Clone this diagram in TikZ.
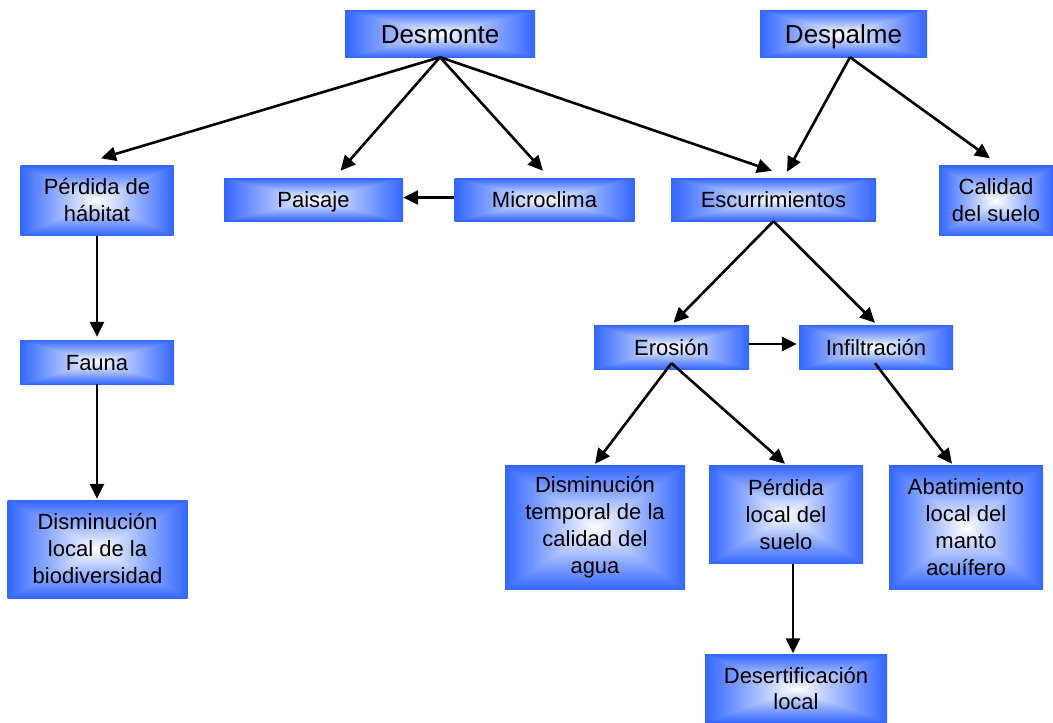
\documentclass[tikz,border=0pt]{standalone}
\usepackage{fontspec}
\setmainfont{Liberation Sans}
\usetikzlibrary{arrows.meta,calc}
\pgfdeclarefunctionalshading{boxshade}{\pgfpointorigin}{\pgfpoint{100bp}{100bp}}{}{
  50 sub abs exch 50 sub abs
  2 copy lt {exch} if pop
  25 div dup 1 gt {pop 1} if
  dup 0.8 mul 1 exch sub
  exch 0.6 mul 1 exch sub
  1
}
\tikzset{
  box/.style={rectangle, shading=boxshade, inner sep=0pt, align=center,
    font=\fontsize{22}{27}\selectfont, text=black},
  oneline/.style={text height=16pt, text depth=0pt},
  bigline/.style={font=\fontsize{26}{30}\selectfont, text height=19pt, text depth=0pt},
  arr/.style={line width=2.6pt, draw=black, -{Triangle[length=15pt,width=14pt]}},
}
\begin{document}
\begin{tikzpicture}[x=1pt,y=-1pt]
\useasboundingbox (0,0) rectangle (1053,723);
% nodes
\node[box, bigline, minimum width=190pt, minimum height=47pt] (desm) at (440,33.5) {Desmonte};
\node[box, bigline, minimum width=167pt, minimum height=47pt] (desp) at (843.5,33.5) {Despalme};
\node[box, minimum width=153pt, minimum height=70pt] (perd) at (97,200.5) {Pérdida de\\hábitat};
\node[box, oneline, minimum width=179pt, minimum height=43pt] (pais) at (313.5,199.5) {Paisaje};
\node[box, oneline, minimum width=180pt, minimum height=43pt] (micr) at (544.5,199.5) {Microclima};
\node[box, oneline, minimum width=205pt, minimum height=43pt] (escu) at (773.5,199.5) {Escurrimientos};
\node[box, minimum width=114pt, minimum height=70pt] (cali) at (996,200.5) {Calidad\\del suelo};
\node[box, oneline, minimum width=154pt, minimum height=44pt] (faun) at (97,362) {Fauna};
\node[box, minimum width=180pt, minimum height=98pt] (dism) at (97.5,549) {Disminución\\local de la\\biodiversidad};
\node[box, oneline, minimum width=155pt, minimum height=44pt] (eros) at (671.5,347) {Erosión};
\node[box, oneline, minimum width=154pt, minimum height=44pt] (infi) at (876,347) {Infiltración};
\node[box, minimum width=180pt, minimum height=124pt] (dtem) at (595,527.5) {Disminución\\temporal de la\\calidad del\\agua};
\node[box, minimum width=154pt, minimum height=98pt] (ploc) at (786,514.5) {Pérdida\\local del\\suelo};
\node[box, minimum width=154pt, minimum height=124pt] (abat) at (966,527.5) {Abatimiento\\local del\\manto\\acuífero};
\node[box, minimum width=182pt, minimum height=68pt] (dese) at (796,688.5) {Desertificación\\local};
% connectors
\draw[arr] (desm.south) -- ($(perd.north)+(4,-7)$);
\draw[arr] (desm.south) -- ($(pais.north)+(27,-7)$);
\draw[arr] (desm.south) -- ($(micr.north)+(-1.5,-7)$);
\draw[arr] (desm.south) -- ($(escu.north)+(-1.5,-7)$);
\draw[arr] ($(desp.south)+(6.5,0)$) -- ($(escu.north)+(13.5,-6)$);
\draw[arr] ($(desp.south)+(6.5,0)$) -- ($(cali.north)+(-6,-7)$);
\draw[arr] ($(micr.west)+(0,-2)$) -- ($(pais.east)+(0,-2)$);
\draw[arr] (perd.south) -- ($(faun.north)+(0,-3)$);
\draw[arr] (faun.south) -- ($(dism.north)+(-0.5,-1)$);
\draw[arr] (escu.south) -- ($(eros.north)+(2,-2)$);
\draw[arr] (escu.south) -- ($(infi.north)+(-1,-2)$);
\draw[arr] ($(eros.east)+(0,-3)$) -- ($(infi.west)+(-2,-3)$);
\draw[arr] ($(eros.south)+(0,-6)$) -- ($(dtem.north)+(0,-1.5)$);
\draw[arr] ($(eros.south)+(0,-6)$) -- ($(ploc.north)+(-1,-1.5)$);
\draw[arr] ($(infi.south)+(-1,-6)$) -- ($(abat.north)+(-14,-1.5)$);
\draw[arr] ($(ploc.south)+(7,0)$) -- ($(dese.north)+(-3,-1)$);
\end{tikzpicture}
\end{document}
